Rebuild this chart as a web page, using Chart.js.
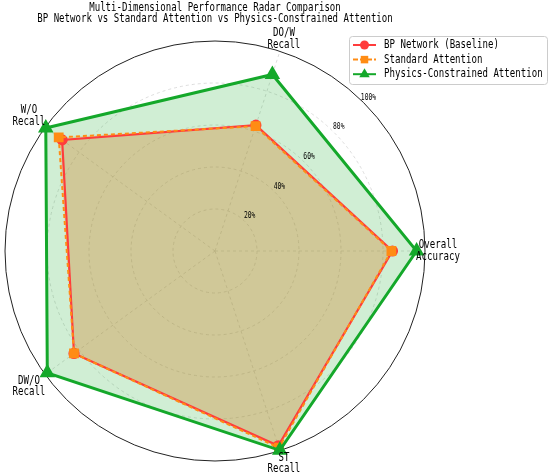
<!doctype html>
<html>
<head>
	<title>Multi-Dimensional Performance Radar Comparison</title>
	<script src="https://cdn.jsdelivr.net/npm/chart.js@4/dist/chart.umd.min.js"></script>
	<style>
		html, body { margin: 0; padding: 0; background: #fff; }
		#holder { width: 550px; height: 475px; }
	</style>
</head>
<body>
	<div id="holder"><canvas id="radar"></canvas></div>
	<script>
		// axes listed clockwise from the right, so they land where matplotlib put them
		var categories = ['Overall\nAccuracy', 'ST\nRecall', 'DW/O\nRecall', 'W/O\nRecall', 'DO/W\nRecall'];
		var bpValues = [84.5, 97.5, 83, 90, 63];
		var stdValues = [84, 98.5, 83, 92, 62.5];
		var physValues = [96, 99.8, 98.7, 99.6, 88.4];
		var rTicks = [20, 40, 60, 80, 100];
		var seriesNames = ['BP Network (Baseline)', 'Standard Attention', 'Physics-Constrained Attention'];
		var titleLines = ['Multi-Dimensional Performance Radar Comparison',
			'BP Network vs Standard Attention vs Physics-Constrained Attention'];

		var RED = '#ff3c3c', ORANGE = '#ff8c14', GREEN = '#14a82a';
		var MONO = '"DejaVu Sans Mono", monospace';

		// narrow mono text, close to the half-width look of the original
		function monoText(ctx, txt, x, y, size, align) {
			ctx.save();
			ctx.translate(x, y);
			ctx.scale(0.79, 1);
			ctx.font = size + 'px ' + MONO;
			ctx.textAlign = align || 'center';
			ctx.textBaseline = 'middle';
			ctx.fillStyle = '#000';
			ctx.fillText(txt, 0, 0);
			ctx.restore();
		}

		function marker(ctx, style, x, y, r, color) {
			ctx.save();
			ctx.fillStyle = color;
			ctx.beginPath();
			if (style === 'circle') {
				ctx.arc(x, y, r, 0, Math.PI * 2);
			} else if (style === 'rect') {
				ctx.rect(x - r * 0.75, y - r * 0.75, r * 1.5, r * 1.5);
			} else {
				ctx.moveTo(x, y - r);
				ctx.lineTo(x + r * 0.87, y + r * 0.5);
				ctx.lineTo(x - r * 0.87, y + r * 0.5);
				ctx.closePath();
			}
			ctx.fill();
			ctx.restore();
		}

		var overlay = {
			id: 'overlay',
			afterDraw: function (chart) {
				var ctx = chart.ctx;
				var scale = chart.scales.r;
				var cx = scale.xCenter, cy = scale.yCenter;

				// title
				monoText(ctx, titleLines[0], cx, 8, 11.5);
				monoText(ctx, titleLines[1], cx, 19.5, 11.5);

				// radial tick labels along 45 deg
				rTicks.forEach(function (v) {
					var d = scale.getDistanceFromCenterForValue(v) + 7;
					monoText(ctx, v + '%', cx + d * Math.SQRT1_2, cy - d * Math.SQRT1_2, 8);
				});

				// axis labels, centred just outside the circle
				categories.forEach(function (lab, i) {
					var p = scale.getPointPosition(i, scale.drawingArea + 13);
					if (p.x - cx < -20) {
						p = scale.getPointPosition(i, scale.drawingArea + 20);
					}
					var lines = lab.split('\n');
					monoText(ctx, lines[0], p.x, p.y - 5.5, 11.5);
					monoText(ctx, lines[1], p.x, p.y + 6, 11.5);
				});

				// legend
				ctx.save();
				ctx.fillStyle = 'rgba(255,255,255,0.85)';
				ctx.strokeStyle = '#cccccc';
				ctx.lineWidth = 1;
				ctx.beginPath();
				ctx.roundRect(349.5, 36.5, 198, 48, 3);
				ctx.fill();
				ctx.stroke();
				ctx.restore();

				var styles = [
					{ color: RED, shape: 'circle', r: 4.5, dash: [] },
					{ color: ORANGE, shape: 'rect', r: 5, dash: [5, 2] },
					{ color: GREEN, shape: 'triangle', r: 6, dash: [] }
				];
				seriesNames.forEach(function (name, i) {
					var y = 45 + i * 14.6;
					var s = styles[i];
					ctx.save();
					ctx.strokeStyle = s.color;
					ctx.lineWidth = 2;
					ctx.setLineDash(s.dash);
					ctx.beginPath();
					ctx.moveTo(353, y);
					ctx.lineTo(376, y);
					ctx.stroke();
					ctx.restore();
					marker(ctx, s.shape, 364.5, y, s.r, s.color);
					monoText(ctx, name, 384, y, 11.5, 'left');
				});
			}
		};

		var config = {
			type: 'radar',
			data: {
				labels: categories,
				datasets: [{
					label: seriesNames[0],
					data: bpValues,
					borderColor: RED,
					backgroundColor: 'rgba(255,60,60,0.15)',
					borderWidth: 2.2,
					pointStyle: 'circle',
					pointRadius: 4.5,
					pointBackgroundColor: RED,
					pointBorderColor: RED,
					fill: true,
					order: 2
				}, {
					label: seriesNames[1],
					data: stdValues,
					borderColor: ORANGE,
					backgroundColor: 'rgba(255,140,20,0.22)',
					borderWidth: 2,
					borderDash: [4, 3],
					pointStyle: 'rect',
					pointRadius: 5.5,
					pointBackgroundColor: ORANGE,
					pointBorderColor: ORANGE,
					fill: true,
					order: 1
				}, {
					label: seriesNames[2],
					data: physValues,
					borderColor: GREEN,
					backgroundColor: 'rgba(20,168,42,0.2)',
					borderWidth: 3,
					pointStyle: 'triangle',
					pointRadius: 6,
					pointBackgroundColor: GREEN,
					pointBorderColor: GREEN,
					fill: true,
					order: 0
				}]
			},
			options: {
				responsive: true,
				maintainAspectRatio: false,
				animation: false,
				layout: { padding: { left: 5, right: 124, top: 41, bottom: 13 } },
				elements: { line: { tension: 0 } },
				plugins: {
					legend: { display: false },
					title: { display: false },
					tooltip: { enabled: false },
					filler: { drawTime: 'beforeDatasetsDraw' }
				},
				scales: {
					r: {
						min: 0,
						max: 100,
						startAngle: 90,
						ticks: { display: false, stepSize: 20 },
						pointLabels: { display: false },
						grid: {
							circular: true,
							color: function (c) { return c.tick && c.tick.value === 100 ? '#222' : '#d4d4d4'; },
							lineWidth: function (c) { return c.tick && c.tick.value === 100 ? 1 : 0.8; }
						},
						border: {
							dash: function (c) { return c.tick && c.tick.value === 100 ? [] : [3, 3]; }
						},
						angleLines: { color: '#d4d4d4', lineWidth: 0.8, borderDash: [3, 3] }
					}
				}
			},
			plugins: [overlay]
		};

		window.onload = function () {
			var ctx = document.getElementById('radar').getContext('2d');
			window.myRadar = new Chart(ctx, config);
		};
	</script>
</body>
</html>
